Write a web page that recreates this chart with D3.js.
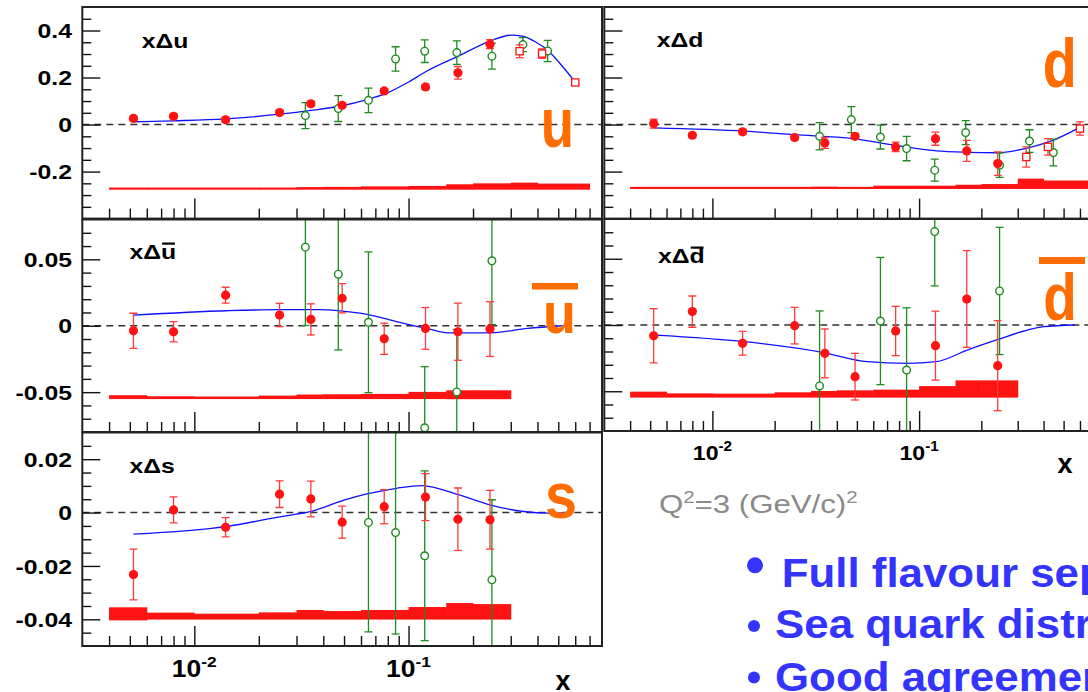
<!DOCTYPE html>
<html>
<head>
<meta charset="utf-8">
<script src="https://cdn.jsdelivr.net/npm/d3@7"></script>
<style>
    html, body { margin: 0; padding: 0; background: #fff; overflow: hidden; }
    svg { display: block; font-family: 'Liberation Sans', Arial, sans-serif; }
</style>
</head>
<body>
<svg id="chart" width="1088" height="692"></svg>
<script>
// x of the bins (systematic band) and of the three data sets
const xBinEdges = [0.004, 0.006, 0.01, 0.02, 0.03, 0.04, 0.06, 0.1, 0.15, 0.2, 0.3, 0.4, 0.7]
const compassX = [0.0052, 0.008, 0.014, 0.025, 0.035, 0.049, 0.077, 0.12, 0.17, 0.24]
const hermesX = [0.033, 0.047, 0.065, 0.087, 0.119, 0.168, 0.245, 0.342, 0.446]
const squareX = [0.33, 0.42, 0.6]
const xTickLabels = [['10', '-2', 0.01], ['10', '-1', 0.1]]

// x delta u
const uCompass = [0.026, 0.035, 0.020, 0.051, 0.088, 0.082, 0.143, 0.160, 0.220, 0.342]
const uCompassErr = [0.01, 0.01, 0.01, 0.01, 0.01, 0.01, 0.01, 0.01, 0.027, 0.019]
const uHermes = [0.038, 0.068, 0.103, 0.279, 0.312, 0.306, 0.291, 0.340, 0.313]
const uHermesErr = [0.055, 0.055, 0.052, 0.052, 0.048, 0.05, 0.055, 0.03, 0.045]
const uSquare = [0.312, 0.302, 0.179]
const uSquareErr = [0.027, 0.02, 0.005]
const uFitX = [0.0052, 0.008, 0.014, 0.025, 0.035, 0.049, 0.064, 0.077, 0.1, 0.122, 0.17, 0.24, 0.3, 0.34, 0.39, 0.446, 0.52, 0.6]
const uFit = [0.012, 0.016, 0.024, 0.044, 0.060, 0.080, 0.106, 0.129, 0.181, 0.228, 0.29, 0.355, 0.38, 0.376, 0.352, 0.316, 0.25, 0.18]
const uSysLow = [-0.277, -0.277, -0.277, -0.277, -0.277, -0.277, -0.277, -0.277, -0.277, -0.277, -0.277, -0.277]
const uSysHigh = [-0.268, -0.268, -0.268, -0.268, -0.266, -0.265, -0.263, -0.261, -0.254, -0.250, -0.247, -0.251]
const uTicks = [-0.2, 0, 0.2, 0.4]

// x delta d
const dCompass = [0.004, -0.0455, -0.031, -0.055, -0.078, -0.050, -0.095, -0.060, -0.112, -0.166]
const dCompassErr = [0.019, 0.01, 0.01, 0.01, 0.023, 0.012, 0.02, 0.028, 0.045, 0.05]
const dHermes = [-0.050, 0.021, -0.053, -0.102, -0.194, -0.034, -0.173, -0.070, -0.119]
const dHermesErr = [0.058, 0.055, 0.051, 0.052, 0.047, 0.051, 0.052, 0.048, 0.057]
const dSquare = [-0.138, -0.095, -0.017]
const dSquareErr = [0.043, 0.035, 0.028]
const dFitX = [0.0052, 0.0143, 0.025, 0.048, 0.076, 0.121, 0.171, 0.237, 0.334, 0.43, 0.6]
const dFit = [-0.014, -0.028, -0.043, -0.060, -0.088, -0.112, -0.118, -0.120, -0.100, -0.072, -0.012]
const dSysLow = [-0.274, -0.274, -0.274, -0.274, -0.274, -0.274, -0.274, -0.274, -0.274, -0.274, -0.274, -0.274]
const dSysHigh = [-0.265, -0.265, -0.265, -0.265, -0.264, -0.265, -0.260, -0.260, -0.256, -0.253, -0.230, -0.238]

// x delta u-bar
const ubCompass = [-0.0038, -0.0045, 0.023, 0.0081, 0.0048, 0.0207, -0.0098, -0.002, -0.0045, -0.0025]
const ubCompassErr = [0.0132, 0.0076, 0.006, 0.0088, 0.0117, 0.011, 0.0117, 0.0157, 0.0215, 0.0206]
const ubHermes = [0.0592, 0.0388, 0.0026, null, -0.0768, -0.0498, 0.0489, null, null]
const ubHermesErr = [0.059, 0.057, 0.053, null, 0.046, 0.047, 0.048, null, null]
const ubFitX = [0.0052, 0.0142, 0.025, 0.038, 0.049, 0.064, 0.089, 0.122, 0.153, 0.24, 0.36, 0.52]
const ubFit = [0.008, 0.0113, 0.0121, 0.0121, 0.011, 0.0086, 0.003, -0.002, -0.0053, -0.0053, -0.002, 0]
const ubSysLow = [-0.0552, -0.0552, -0.0552, -0.0552, -0.0552, -0.0552, -0.0552, -0.0552, -0.0553, -0.0553]
const ubSysHigh = [-0.0523, -0.0531, -0.0533, -0.0526, -0.0518, -0.0516, -0.0513, -0.0498, -0.0486, -0.0486]
const ubTicks = [-0.05, 0, 0.05]

// x delta d-bar
const dbCompass = [-0.0081, 0.0101, -0.0138, -0.0005, -0.0214, -0.039, -0.0045, -0.0156, 0.0196, -0.0307]
const dbCompassErr = [0.0205, 0.0118, 0.009, 0.0138, 0.0184, 0.0176, 0.0186, 0.026, 0.0365, 0.034]
const dbHermes = [-0.046, null, 0.003, -0.034, 0.0705, null, 0.0257, null, null]
const dbHermesErr = [0.0566, null, 0.048, 0.047, 0.041, null, 0.048, null, null]
const dbFitX = [0.0053, 0.0143, 0.034, 0.056, 0.087, 0.121, 0.171, 0.237, 0.334, 0.4, 0.566]
const dbFit = [-0.0076, -0.0126, -0.0206, -0.0277, -0.029, -0.0277, -0.0189, -0.0113, -0.0038, -0.0013, 0]
const dbSysLow = [-0.0548, -0.0548, -0.0548, -0.0548, -0.0548, -0.0548, -0.0548, -0.0548, -0.0548, -0.0548]
const dbSysHigh = [-0.0503, -0.0516, -0.0518, -0.0508, -0.0498, -0.0493, -0.0488, -0.0461, -0.0418, -0.0418]

// x delta s
const sCompass = [-0.0232, 0.0010, -0.0055, 0.0069, 0.0051, -0.0036, 0.0022, 0.0058, -0.0025, -0.0027]
const sCompassErr = [0.0095, 0.0049, 0.0036, 0.005, 0.0067, 0.006, 0.0064, 0.0088, 0.0117, 0.011]
const sHermes = [null, null, -0.0037, -0.0075, -0.0162, null, -0.0252, null, null]
const sHermesErr = [null, null, 0.041, 0.038, 0.0318, null, 0.030, null, null]
const sFitX = [0.0052, 0.0142, 0.0246, 0.035, 0.05, 0.064, 0.088, 0.115, 0.172, 0.239, 0.345, 0.447, 0.55]
const sFit = [-0.0081, -0.0052, -0.0017, 0.0004, 0.0047, 0.007, 0.0091, 0.0101, 0.0066, 0.0029, 0.0004, -0.0002, 0]
const sSysLow = [-0.0404, -0.0401, -0.0401, -0.0401, -0.0401, -0.0401, -0.0401, -0.0401, -0.0401, -0.0401]
const sSysHigh = [-0.0355, -0.0375, -0.0379, -0.0374, -0.0365, -0.0369, -0.0365, -0.0354, -0.0339, -0.0343]
const sTicks = [-0.04, -0.02, 0, 0.02]

const RED = '#ff1212'
const RED_ERR = '#ff3a3a'
const GREEN = '#1f8a1f'
const BLUE = '#1010ff'
const ORANGE = '#ff6c00'

const svg = d3.select('#chart')

// the two columns share x domain, the right one is a bit narrower and runs off the page
const xLeft = d3.scaleLog().domain([0.003, 0.8]).range([82.3, 602])
const xRight = d3.scaleLog().domain([0.003, 0.8]).range([604.3, 1105.8])

const panels = [
    { id: 'u', x: xLeft, yRange: [218.6, 7], domain: [-0.4, 0.5], ticks: uTicks, minor: 0.05,
        compass: uCompass, compassErr: uCompassErr, hermes: uHermes, hermesErr: uHermesErr,
        square: uSquare, squareErr: uSquareErr, fitX: uFitX, fit: uFit, sysLow: uSysLow, sysHigh: uSysHigh,
        title: { x: 141.7, y: 48.3, q: 'u', bar: false },
        big: { x: 557.5, y: 146.5, size: 70, sx: 0.78, q: 'u', bar: null } },
    { id: 'd', x: xRight, yRange: [218.6, 7], domain: [-0.4, 0.5], ticks: uTicks, minor: 0.05, noLabels: true,
        compass: dCompass, compassErr: dCompassErr, hermes: dHermes, hermesErr: dHermesErr,
        square: dSquare, squareErr: dSquareErr, fitX: dFitX, fit: dFit, sysLow: dSysLow, sysHigh: dSysHigh,
        title: { x: 656.7, y: 46.7, q: 'd', bar: false },
        big: { x: 1059.7, y: 87.3, size: 68, sx: 0.82, q: 'd', bar: null } },
    { id: 'ub', x: xLeft, yRange: [432, 219.5], domain: [-0.08, 0.08], ticks: ubTicks, minor: 0.01,
        compass: ubCompass, compassErr: ubCompassErr, hermes: ubHermes, hermesErr: ubHermesErr,
        fitX: ubFitX, fit: ubFit, sysLow: ubSysLow, sysHigh: ubSysHigh,
        title: { x: 129.4, y: 259, q: 'u', bar: true },
        big: { x: 559.5, y: 333.3, size: 58, sx: 0.93, q: 'u', bar: [532, 283, 46, 6.5] } },
    { id: 'db', x: xRight, yRange: [431, 219], domain: [-0.08, 0.08], ticks: ubTicks, minor: 0.01, noLabels: true,
        compass: dbCompass, compassErr: dbCompassErr, hermes: dbHermes, hermesErr: dbHermesErr,
        fitX: dbFitX, fit: dbFit, sysLow: dbSysLow, sysHigh: dbSysHigh,
        title: { x: 658, y: 263, q: 'd', bar: true },
        big: { x: 1060, y: 320, size: 67, sx: 0.82, q: 'd', bar: [1039, 257, 46, 7] },
        xLabels: { y: 460, size: 21, sx: 1.1, title: [1065, 473] } },
    { id: 's', x: xLeft, yRange: [646, 432.5], domain: [-0.05, 0.03], ticks: sTicks, minor: 0.005,
        compass: sCompass, compassErr: sCompassErr, hermes: sHermes, hermesErr: sHermesErr,
        fitX: sFitX, fit: sFit, sysLow: sSysLow, sysHigh: sSysHigh,
        title: { x: 129.4, y: 473, q: 's', bar: false },
        big: { x: 561, y: 518.3, size: 64, sx: 0.9, q: 's', bar: null },
        xLabels: { y: 677, size: 23, sx: 1.15, title: [563, 689.5] } }
]

const fmt = v => String(+v.toFixed(3))
const isMajor = v => Math.abs(Math.log10(v) - Math.round(Math.log10(v))) < 1e-6

function errorBars (g, x, y, xs, vals, errs, color) {
    const pts = xs.map((xv, i) => ({ x: xv, v: vals[i], e: errs[i] })).filter(d => d.v !== null && d.v !== undefined)
    const bars = g.append('g').attr('stroke', color).attr('stroke-width', 1.3)
    pts.forEach(d => {
        const cx = x(d.x)
        bars.append('line').attr('x1', cx).attr('x2', cx).attr('y1', y(d.v + d.e)).attr('y2', y(d.v - d.e))
        bars.append('line').attr('x1', cx - 4).attr('x2', cx + 4).attr('y1', y(d.v + d.e)).attr('y2', y(d.v + d.e))
        bars.append('line').attr('x1', cx - 4).attr('x2', cx + 4).attr('y1', y(d.v - d.e)).attr('y2', y(d.v - d.e))
    })
    return pts
}

panels.forEach(p => {
    const x = p.x
    const y = d3.scaleLinear().domain(p.domain).range(p.yRange)
    const [x0, x1] = x.range()
    const [yb, yt] = p.yRange
    const g = svg.append('g')

    g.append('clipPath').attr('id', 'clip-' + p.id)
        .append('rect').attr('x', x0).attr('y', yt).attr('width', x1 - x0).attr('height', yb - yt)
    const plot = g.append('g').attr('clip-path', `url(#clip-${p.id})`)

    // systematic band, one step per x bin
    plot.append('g').selectAll('rect')
        .data(p.sysHigh)
        .join('rect')
        .attr('x', (d, i) => x(xBinEdges[i]))
        .attr('width', (d, i) => x(xBinEdges[i + 1]) - x(xBinEdges[i]) + 0.5)
        .attr('y', d => y(d))
        .attr('height', (d, i) => y(p.sysLow[i]) - y(d))
        .attr('fill', RED)

    // zero line
    plot.append('line')
        .attr('x1', x0).attr('x2', x1).attr('y1', y(0)).attr('y2', y(0))
        .attr('stroke', '#333').attr('stroke-width', 1.5).attr('stroke-dasharray', '7,5')

    // fit curve
    plot.append('path')
        .datum(p.fitX.map((xv, i) => [xv, p.fit[i]]))
        .attr('fill', 'none').attr('stroke', BLUE).attr('stroke-width', 1.3)
        .attr('d', d3.line().x(d => x(d[0])).y(d => y(d[1])).curve(d3.curveMonotoneX))

    // hermes, open green circles
    const hp = errorBars(plot, x, y, hermesX, p.hermes, p.hermesErr, GREEN)
    plot.append('g').selectAll('circle').data(hp).join('circle')
        .attr('cx', d => x(d.x)).attr('cy', d => y(d.v)).attr('r', 3.8)
        .attr('fill', '#fff').attr('stroke', GREEN).attr('stroke-width', 1.4)

    // open red squares
    if (p.square) {
        const sp = errorBars(plot, x, y, squareX, p.square, p.squareErr, RED_ERR)
        plot.append('g').selectAll('rect').data(sp).join('rect')
            .attr('x', d => x(d.x) - 3.6).attr('y', d => y(d.v) - 3.6)
            .attr('width', 7.2).attr('height', 7.2)
            .attr('fill', '#fff').attr('stroke', RED).attr('stroke-width', 1.3)
    }

    // compass, full red circles
    const cp = errorBars(plot, x, y, compassX, p.compass, p.compassErr, RED_ERR)
    plot.append('g').selectAll('circle').data(cp).join('circle')
        .attr('cx', d => x(d.x)).attr('cy', d => y(d.v)).attr('r', 4.6)
        .attr('fill', RED)

    // ticks, pointing inwards
    const xt = x.ticks().filter(v => v > 0.0031 && v < 0.79)
    const axisStyle = a => a.call(s => s.select('.domain').remove())
        .call(s => s.selectAll('line').attr('stroke', '#111').attr('stroke-width', 1.4))
    g.append('g').attr('transform', `translate(0,${yb})`)
        .call(d3.axisBottom(x).tickValues(xt.filter(v => !isMajor(v))).tickSize(-10).tickFormat(''))
        .call(axisStyle)
    g.append('g').attr('transform', `translate(0,${yb})`)
        .call(d3.axisBottom(x).tickValues(xt.filter(isMajor)).tickSize(-20).tickFormat(''))
        .call(axisStyle)
    const yMinor = d3.range(Math.ceil(p.domain[0] / p.minor) + 1, Math.floor(p.domain[1] / p.minor))
        .map(k => k * p.minor)
        .filter(v => !p.ticks.some(t => Math.abs(t - v) < 1e-9))
    g.append('g').attr('transform', `translate(${x0},0)`)
        .call(d3.axisLeft(y).tickValues(yMinor).tickSize(-9).tickFormat(''))
        .call(axisStyle)
    g.append('g').attr('transform', `translate(${x0},0)`)
        .call(d3.axisLeft(y).tickValues(p.ticks).tickSize(-18).tickFormat(''))
        .call(axisStyle)

    // frame
    g.append('rect')
        .attr('x', x0).attr('y', yt).attr('width', x1 - x0).attr('height', yb - yt)
        .attr('fill', 'none').attr('stroke', '#222').attr('stroke-width', 2)

    // y tick labels
    if (!p.noLabels) {
        p.ticks.forEach(t => {
            svg.append('g').attr('transform', `translate(72,${y(t)}) scale(1.18,1)`)
                .append('text')
                .attr('text-anchor', 'end').attr('dy', '0.36em')
                .attr('font-size', 21).attr('font-weight', 'bold').attr('fill', '#000')
                .text(fmt(t))
        })
    }

    // x tick labels and axis title
    if (p.xLabels) {
        xTickLabels.forEach(([base, exp, v]) => {
            const t = svg.append('g').attr('transform', `translate(${x(v)},${p.xLabels.y}) scale(${p.xLabels.sx},1)`)
                .append('text')
                .attr('text-anchor', 'middle').attr('font-weight', 'bold')
                .attr('font-size', p.xLabels.size).attr('fill', '#000')
            t.append('tspan').text(base)
            t.append('tspan').attr('dy', -p.xLabels.size * 0.42).attr('font-size', p.xLabels.size * 0.66).text(exp)
        })
        svg.append('text')
            .attr('x', p.xLabels.title[0]).attr('y', p.xLabels.title[1])
            .attr('text-anchor', 'middle').attr('font-size', 27).attr('font-weight', 'bold')
            .text('x')
    }

    // panel title, e.g. x delta u
    const tg = svg.append('g').attr('transform', `translate(${p.title.x},${p.title.y}) scale(1.18,1)`)
    const tt = tg.append('text').attr('font-size', 21).attr('font-weight', 'bold').attr('fill', '#000')
        .text('x\u0394' + p.title.q)
    if (p.title.bar) {
        const box = tt.node().getExtentOfChar(2)
        tg.append('rect')
            .attr('x', box.x + 1).attr('y', -16.5)
            .attr('width', box.width - 2).attr('height', 2.2)
            .attr('fill', '#000')
    }

    // big orange flavour letter
    svg.append('g').attr('transform', `translate(${p.big.x},${p.big.y}) scale(${p.big.sx},1)`)
        .append('text')
        .attr('text-anchor', 'middle').attr('font-size', p.big.size).attr('font-weight', 'bold')
        .attr('fill', ORANGE)
        .text(p.big.q)
    if (p.big.bar) {
        const [bx, by, bw, bh] = p.big.bar
        svg.append('rect').attr('x', bx).attr('y', by).attr('width', bw).attr('height', bh).attr('fill', ORANGE)
    }
})

// scale note
const q = svg.append('g').attr('transform', 'translate(659,512.5) scale(1.2,1)')
    .append('text').attr('font-size', 26).attr('fill', '#8a8a8a')
q.append('tspan').text('Q')
q.append('tspan').attr('dy', -10).attr('font-size', 17).text('2')
q.append('tspan').attr('dy', 10).text('=3 (GeV/c)')
q.append('tspan').attr('dy', -10).attr('font-size', 17).text('2')

// slide bullets, they run off the right edge as on the slide
const bullets = [
    { text: 'Full flavour separation', x: 781.7, y: 586.7, dot: [755, 565.3, 8] },
    { text: 'Sea quark distributions', x: 775, y: 638.3, dot: [754, 626, 6] },
    { text: 'Good agreement', x: 775, y: 691, dot: [754, 677.5, 6] }
]
bullets.forEach(b => {
    svg.append('circle').attr('cx', b.dot[0]).attr('cy', b.dot[1]).attr('r', b.dot[2]).attr('fill', '#3434ff')
    svg.append('g').attr('transform', `translate(${b.x},${b.y}) scale(1.07,1)`)
        .append('text')
        .attr('font-size', 41).attr('font-weight', 'bold').attr('fill', '#3434ff')
        .text(b.text)
})
</script>
</body>
</html>
